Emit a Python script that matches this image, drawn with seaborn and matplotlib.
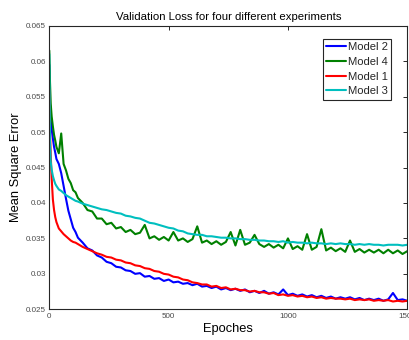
import pandas as pd
import seaborn as sns
import matplotlib
matplotlib.use("Agg")
import matplotlib.pyplot as plt

# Epochs sampled (denser at the start where the loss drops fast)
epochs = [0, 3, 6, 10, 15, 20, 25, 30, 40, 50, 60, 70, 80, 90, 100, 110, 120, 140, 160, 180] + list(range(200, 1501, 20))

# Validation loss
model2 = [0.0595, 0.0540, 0.0516, 0.0504, 0.0491, 0.0479, 0.0471, 0.0462, 0.0455, 0.0442,
          0.0424, 0.0406, 0.0389, 0.0377, 0.0365, 0.0359, 0.0351, 0.0344, 0.0336, 0.0333,
          0.0326, 0.0323, 0.0317, 0.0315, 0.0310, 0.0309, 0.0305, 0.0304, 0.0300, 0.0301,
          0.0296, 0.0297, 0.0293, 0.0294, 0.0290, 0.0292, 0.0288, 0.0289, 0.0286, 0.0287,
          0.0284, 0.0286, 0.0282, 0.0283, 0.0280, 0.0282, 0.0278, 0.0280, 0.0277, 0.0279,
          0.0276, 0.0278, 0.0274, 0.0276, 0.0273, 0.0276, 0.0272, 0.0274, 0.0271, 0.0278,
          0.0270, 0.0272, 0.0269, 0.0271, 0.0268, 0.0270, 0.0267, 0.0269, 0.0266, 0.0268,
          0.0265, 0.0267, 0.0265, 0.0267, 0.0264, 0.0266, 0.0263, 0.0265, 0.0263, 0.0265,
          0.0262, 0.0264, 0.0273, 0.0263, 0.0264, 0.0262]
model4 = [0.0615, 0.0570, 0.0540, 0.0522, 0.0508, 0.0496, 0.0488, 0.0479, 0.0470, 0.0498,
          0.0455, 0.0446, 0.0434, 0.0428, 0.0418, 0.0415, 0.0407, 0.0400, 0.0390, 0.0388,
          0.0378, 0.0378, 0.0370, 0.0372, 0.0364, 0.0366, 0.0359, 0.0362, 0.0356, 0.0358,
          0.0369, 0.0350, 0.0353, 0.0348, 0.0352, 0.0347, 0.0359, 0.0347, 0.0350, 0.0345,
          0.0349, 0.0367, 0.0344, 0.0347, 0.0342, 0.0346, 0.0341, 0.0345, 0.0359, 0.0340,
          0.0362, 0.0341, 0.0344, 0.0355, 0.0342, 0.0338, 0.0342, 0.0337, 0.0341, 0.0336,
          0.0350, 0.0335, 0.0339, 0.0334, 0.0356, 0.0334, 0.0338, 0.0363, 0.0333, 0.0337,
          0.0332, 0.0336, 0.0331, 0.0347, 0.0331, 0.0335, 0.0330, 0.0334, 0.0330, 0.0334,
          0.0329, 0.0334, 0.0329, 0.0333, 0.0328, 0.0332]
model1 = [0.0560, 0.0500, 0.0468, 0.0435, 0.0405, 0.0390, 0.0380, 0.0373, 0.0364, 0.0360,
          0.0356, 0.0353, 0.0350, 0.0347, 0.0345, 0.0344, 0.0342, 0.0338, 0.0335, 0.0332,
          0.0329, 0.0327, 0.0324, 0.0323, 0.0320, 0.0319, 0.0316, 0.0315, 0.0312, 0.0311,
          0.0308, 0.0307, 0.0304, 0.0303, 0.0300, 0.0299, 0.0296, 0.0295, 0.0292, 0.0291,
          0.0288, 0.0287, 0.0285, 0.0285, 0.0282, 0.0283, 0.0280, 0.0281, 0.0278, 0.0279,
          0.0277, 0.0277, 0.0275, 0.0276, 0.0274, 0.0274, 0.0272, 0.0273, 0.0270, 0.0271,
          0.0269, 0.0270, 0.0268, 0.0269, 0.0267, 0.0268, 0.0266, 0.0267, 0.0265, 0.0266,
          0.0265, 0.0265, 0.0264, 0.0265, 0.0263, 0.0264, 0.0263, 0.0264, 0.0262, 0.0263,
          0.0262, 0.0263, 0.0261, 0.0262, 0.0261, 0.0262]
model3 = [0.0610, 0.0485, 0.0458, 0.0447, 0.0438, 0.0432, 0.0427, 0.0424, 0.0419, 0.0417,
          0.0414, 0.0411, 0.0409, 0.0407, 0.0405, 0.0403, 0.0402, 0.0399, 0.0397, 0.0395,
          0.0393, 0.0391, 0.0390, 0.0388, 0.0386, 0.0385, 0.0382, 0.0381, 0.0379, 0.0378,
          0.0375, 0.0372, 0.0371, 0.0369, 0.0367, 0.0365, 0.0364, 0.0361, 0.0360, 0.0357,
          0.0356, 0.0355, 0.0355, 0.0353, 0.0353, 0.0352, 0.0351, 0.0351, 0.0350, 0.0350,
          0.0349, 0.0349, 0.0348, 0.0348, 0.0347, 0.0347, 0.0346, 0.0346, 0.0345, 0.0346,
          0.0344, 0.0345, 0.0344, 0.0344, 0.0343, 0.0344, 0.0343, 0.0343, 0.0342, 0.0343,
          0.0342, 0.0343, 0.0342, 0.0342, 0.0341, 0.0342, 0.0341, 0.0342, 0.0341, 0.0341,
          0.0340, 0.0341, 0.0341, 0.0341, 0.0340, 0.0341]

models = ["Model 2", "Model 4", "Model 1", "Model 3"]
colors = ["#0000ff", "#008000", "#ff0000", "#00bfbf"]
ytick_vals = [0.025, 0.03, 0.035, 0.04, 0.045, 0.05, 0.055, 0.06, 0.065]
ytick_labels = ["0.025", "0.03", "0.035", "0.04", "0.045", "0.05", "0.055", "0.06", "0.065"]
xtick_vals = [0, 500, 1000, 1500]

frames = []
for name, vals in zip(models, [model2, model4, model1, model3]):
    frames.append(pd.DataFrame({"Epoch": epochs, "MSE": vals, "Model": name}))
df = pd.concat(frames, ignore_index=True)

sns.set_style("white")
plt.rcParams['font.family'] = ['Liberation Sans', 'DejaVu Sans']
ink = "#262626"

fig = plt.figure(figsize=(4.09, 3.40), dpi=100)
ax = fig.add_axes([0.1205, 0.0903, 0.8753, 0.8341])

sns.lineplot(data=df, x="Epoch", y="MSE", hue="Model", hue_order=models,
             palette=dict(zip(models, colors)), estimator=None, sort=True,
             linewidth=1.5, legend=False, ax=ax)

ax.set_xlim(0, 1500)
ax.set_ylim(0.025, 0.065)
ax.set_xticks(xtick_vals)
ax.set_xticklabels([str(v) for v in xtick_vals])
ax.set_yticks(ytick_vals)
ax.set_yticklabels(ytick_labels)
ax.tick_params(direction="in", length=3, width=0.7, top=True, right=True,
               labelsize=5.8, colors=ink, pad=2.5)
ax.tick_params(labelcolor="#4a4a4a")

for s in ax.spines.values():
    s.set_color(ink)
    s.set_linewidth(0.8)

ax.set_title("Validation Loss for four different experiments", fontsize=8.2, color="black", pad=4)
ax.set_xlabel("Epoches", fontsize=9.3, color="black", labelpad=2)
ax.set_ylabel("Mean Square Error", fontsize=9.3, color="black", labelpad=3)

leg = ax.legend(ax.lines, models, loc="upper right", bbox_to_anchor=(0.9545, 0.954),
                borderaxespad=0, fontsize=8.1, frameon=True, fancybox=False,
                framealpha=1, edgecolor=ink, handlelength=1.8, handletextpad=0.1,
                labelspacing=0.42, borderpad=0.3)
leg.get_frame().set_linewidth(0.8)

fig.savefig("out.png", dpi=100)
